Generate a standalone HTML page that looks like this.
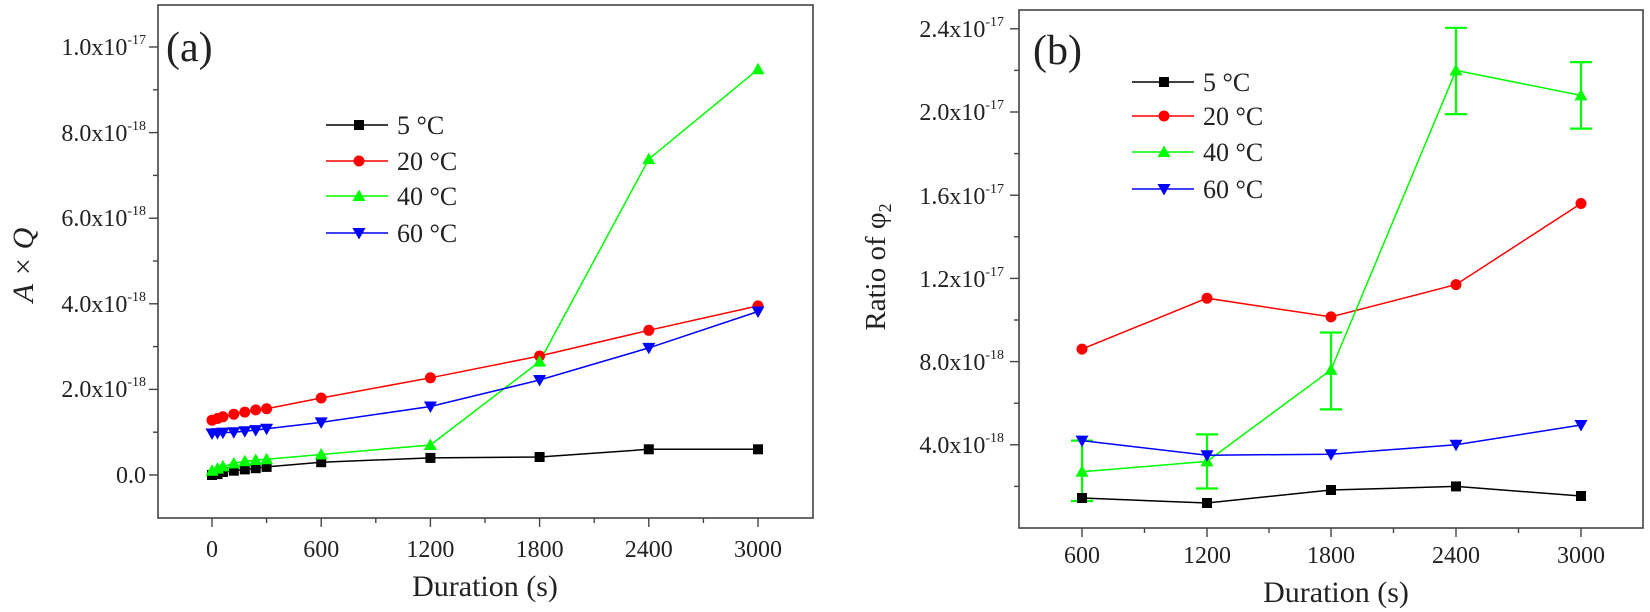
<!DOCTYPE html>
<html><head><meta charset="utf-8"><style>
html,body{margin:0;padding:0;background:#fff;}
svg{display:block;}
svg text{font-family:"Liberation Serif","DejaVu Serif",serif;}
</style></head><body>
<svg width="1650" height="612" viewBox="0 0 1650 612" xmlns="http://www.w3.org/2000/svg" font-family="'Liberation Serif', 'DejaVu Serif', serif">
<defs>
<g id="sq"><rect x="-5" y="-5" width="10" height="10" fill="#000"/></g>
<g id="ci"><circle r="5.5" fill="#f00"/></g>
<g id="tu"><polygon points="0,-6.5 6.5,5 -6.5,5" fill="#0f0"/></g>
<g id="td"><polygon points="0,6.5 6.5,-5 -6.5,-5" fill="#00f"/></g>
</defs>

<!-- ===== Panel a ===== -->
<rect x="158" y="5" width="655" height="513" fill="none" stroke="#444" stroke-width="1.6"/>
<g stroke="#444" stroke-width="1.4">
<line x1="149" y1="475" x2="158" y2="475"/><line x1="149" y1="389.4" x2="158" y2="389.4"/><line x1="149" y1="303.8" x2="158" y2="303.8"/><line x1="149" y1="218.2" x2="158" y2="218.2"/><line x1="149" y1="132.6" x2="158" y2="132.6"/><line x1="149" y1="47" x2="158" y2="47"/>
<line x1="153" y1="432.2" x2="158" y2="432.2"/><line x1="153" y1="346.6" x2="158" y2="346.6"/><line x1="153" y1="261" x2="158" y2="261"/><line x1="153" y1="175.4" x2="158" y2="175.4"/><line x1="153" y1="89.8" x2="158" y2="89.8"/>
<line x1="212" y1="518" x2="212" y2="527"/><line x1="321.2" y1="518" x2="321.2" y2="527"/><line x1="430.4" y1="518" x2="430.4" y2="527"/><line x1="539.6" y1="518" x2="539.6" y2="527"/><line x1="648.8" y1="518" x2="648.8" y2="527"/><line x1="758" y1="518" x2="758" y2="527"/>
<line x1="266.6" y1="518" x2="266.6" y2="523"/><line x1="375.8" y1="518" x2="375.8" y2="523"/><line x1="485" y1="518" x2="485" y2="523"/><line x1="594.2" y1="518" x2="594.2" y2="523"/><line x1="703.4" y1="518" x2="703.4" y2="523"/>
</g>
<g font-size="24" fill="#222" text-anchor="end" font-family="'Liberation Serif', serif">
<text x="146" y="483">0.0</text>
<text x="146" y="397">2.0x10<tspan font-size="14" dy="-11">-18</tspan></text>
<text x="146" y="312">4.0x10<tspan font-size="14" dy="-11">-18</tspan></text>
<text x="146" y="226">6.0x10<tspan font-size="14" dy="-11">-18</tspan></text>
<text x="146" y="141">8.0x10<tspan font-size="14" dy="-11">-18</tspan></text>
<text x="146" y="55">1.0x10<tspan font-size="14" dy="-11">-17</tspan></text>
</g>
<g font-size="24" fill="#222" text-anchor="middle" font-family="'Liberation Serif', serif">
<text x="212" y="557">0</text><text x="321.2" y="557">600</text><text x="430.4" y="557">1200</text><text x="539.6" y="557">1800</text><text x="648.8" y="557">2400</text><text x="758" y="557">3000</text>
</g>
<text x="485" y="596" font-size="30" fill="#222" text-anchor="middle" font-family="'Liberation Serif', serif">Duration (s)</text>
<text transform="translate(33,265) rotate(-90)" font-size="30" fill="#222" text-anchor="middle" font-style="italic" font-family="'Liberation Serif', serif">A × Q</text>
<text x="166" y="61" font-size="42" fill="#222" font-family="'Liberation Serif', serif">(a)</text>

<g fill="none" stroke-width="1.5">
<polyline stroke="#000" points="212,475 217.5,474.1 222.9,472 233.8,470.7 244.8,469.4 255.7,468.2 266.6,466.9 321.2,462.2 430.4,457.9 539.6,457 648.8,449.3 758,449.3"/>
<polyline stroke="#f00" points="212,420.2 217.5,418.5 222.9,416.8 233.8,414.2 244.8,412.1 255.7,409.9 266.6,408.7 321.2,398 430.4,377.8 539.6,356 648.8,330.3 758,305.9"/>
<polyline stroke="#0f0" points="212,470.7 217.5,468.6 222.9,466.4 233.8,463.4 244.8,461.3 255.7,460 266.6,459.2 321.2,454.5 430.4,445 539.6,361.6 648.8,159.1 758,69.3"/>
<polyline stroke="#00f" points="212,433.5 217.5,433.1 222.9,432.6 233.8,432.2 244.8,431.3 255.7,430.1 266.6,428.8 321.2,422.4 430.4,406.5 539.6,380 648.8,347.9 758,311.5"/>
</g>
<g>
<use href="#sq" x="212" y="475"/><use href="#sq" x="217.5" y="474.1"/><use href="#sq" x="222.9" y="472"/><use href="#sq" x="233.8" y="470.7"/><use href="#sq" x="244.8" y="469.4"/><use href="#sq" x="255.7" y="468.2"/><use href="#sq" x="266.6" y="466.9"/><use href="#sq" x="321.2" y="462.2"/><use href="#sq" x="430.4" y="457.9"/><use href="#sq" x="539.6" y="457"/><use href="#sq" x="648.8" y="449.3"/><use href="#sq" x="758" y="449.3"/>
<use href="#ci" x="212" y="420.2"/><use href="#ci" x="217.5" y="418.5"/><use href="#ci" x="222.9" y="416.8"/><use href="#ci" x="233.8" y="414.2"/><use href="#ci" x="244.8" y="412.1"/><use href="#ci" x="255.7" y="409.9"/><use href="#ci" x="266.6" y="408.7"/><use href="#ci" x="321.2" y="398"/><use href="#ci" x="430.4" y="377.8"/><use href="#ci" x="539.6" y="356"/><use href="#ci" x="648.8" y="330.3"/><use href="#ci" x="758" y="305.9"/>
<use href="#tu" x="212" y="470.7"/><use href="#tu" x="217.5" y="468.6"/><use href="#tu" x="222.9" y="466.4"/><use href="#tu" x="233.8" y="463.4"/><use href="#tu" x="244.8" y="461.3"/><use href="#tu" x="255.7" y="460"/><use href="#tu" x="266.6" y="459.2"/><use href="#tu" x="321.2" y="454.5"/><use href="#tu" x="430.4" y="445"/><use href="#tu" x="539.6" y="361.6"/><use href="#tu" x="648.8" y="159.1"/><use href="#tu" x="758" y="69.3"/>
<use href="#td" x="212" y="433.5"/><use href="#td" x="217.5" y="433.1"/><use href="#td" x="222.9" y="432.6"/><use href="#td" x="233.8" y="432.2"/><use href="#td" x="244.8" y="431.3"/><use href="#td" x="255.7" y="430.1"/><use href="#td" x="266.6" y="428.8"/><use href="#td" x="321.2" y="422.4"/><use href="#td" x="430.4" y="406.5"/><use href="#td" x="539.6" y="380"/><use href="#td" x="648.8" y="347.9"/><use href="#td" x="758" y="311.5"/>
</g>
<!-- legend a -->
<g stroke-width="1.5">
<line x1="326" y1="125" x2="388" y2="125" stroke="#000"/><use href="#sq" x="359" y="125"/>
<line x1="326" y1="161" x2="388" y2="161" stroke="#f00"/><use href="#ci" x="359" y="161"/>
<line x1="326" y1="196" x2="388" y2="196" stroke="#0f0"/><use href="#tu" x="359" y="196"/>
<line x1="326" y1="233" x2="388" y2="233" stroke="#00f"/><use href="#td" x="359" y="233"/>
</g>
<g font-size="26" fill="#222" font-family="'Liberation Serif', serif">
<text x="397" y="134">5 °C</text><text x="397" y="170">20 °C</text><text x="397" y="205">40 °C</text><text x="397" y="242">60 °C</text>
</g>

<!-- ===== Panel b ===== -->
<rect x="1019" y="10" width="624" height="518" fill="none" stroke="#444" stroke-width="1.6"/>
<g stroke="#444" stroke-width="1.4">
<line x1="1010" y1="444.8" x2="1019" y2="444.8"/><line x1="1010" y1="361.6" x2="1019" y2="361.6"/><line x1="1010" y1="278.4" x2="1019" y2="278.4"/><line x1="1010" y1="195.2" x2="1019" y2="195.2"/><line x1="1010" y1="112" x2="1019" y2="112"/><line x1="1010" y1="28.8" x2="1019" y2="28.8"/>
<line x1="1014" y1="486.4" x2="1019" y2="486.4"/><line x1="1014" y1="403.2" x2="1019" y2="403.2"/><line x1="1014" y1="320" x2="1019" y2="320"/><line x1="1014" y1="236.8" x2="1019" y2="236.8"/><line x1="1014" y1="153.6" x2="1019" y2="153.6"/><line x1="1014" y1="70.4" x2="1019" y2="70.4"/>
<line x1="1082" y1="528" x2="1082" y2="537"/><line x1="1207" y1="528" x2="1207" y2="537"/><line x1="1331" y1="528" x2="1331" y2="537"/><line x1="1456" y1="528" x2="1456" y2="537"/><line x1="1581" y1="528" x2="1581" y2="537"/>
<line x1="1144.5" y1="528" x2="1144.5" y2="533"/><line x1="1269" y1="528" x2="1269" y2="533"/><line x1="1393.5" y1="528" x2="1393.5" y2="533"/><line x1="1518.5" y1="528" x2="1518.5" y2="533"/>
</g>
<g font-size="24" fill="#222" text-anchor="end" font-family="'Liberation Serif', serif">
<text x="1004" y="453">4.0x10<tspan font-size="14" dy="-11">-18</tspan></text>
<text x="1004" y="370">8.0x10<tspan font-size="14" dy="-11">-18</tspan></text>
<text x="1004" y="287">1.2x10<tspan font-size="14" dy="-11">-17</tspan></text>
<text x="1004" y="204">1.6x10<tspan font-size="14" dy="-11">-17</tspan></text>
<text x="1004" y="120">2.0x10<tspan font-size="14" dy="-11">-17</tspan></text>
<text x="1004" y="37">2.4x10<tspan font-size="14" dy="-11">-17</tspan></text>
</g>
<g font-size="24" fill="#222" text-anchor="middle" font-family="'Liberation Serif', serif">
<text x="1082" y="563">600</text><text x="1207" y="563">1200</text><text x="1331" y="563">1800</text><text x="1456" y="563">2400</text><text x="1581" y="563">3000</text>
</g>
<text x="1336" y="602" font-size="30" fill="#222" text-anchor="middle" font-family="'Liberation Serif', serif">Duration (s)</text>
<text transform="translate(885,267) rotate(-90)" font-size="29" fill="#222" text-anchor="middle" font-family="'Liberation Serif', serif">Ratio of φ<tspan font-size="18" dy="6">2</tspan></text>
<text x="1033" y="64" font-size="42" fill="#222" font-family="'Liberation Serif', serif">(b)</text>

<!-- error bars -->
<g stroke="#0f0" stroke-width="2.2">
<line x1="1082" y1="440.6" x2="1082" y2="501"/><line x1="1071" y1="440.6" x2="1093" y2="440.6"/><line x1="1071" y1="501" x2="1093" y2="501"/>
<line x1="1207" y1="434.4" x2="1207" y2="488.5"/><line x1="1196" y1="434.4" x2="1218" y2="434.4"/><line x1="1196" y1="488.5" x2="1218" y2="488.5"/>
<line x1="1331" y1="332.5" x2="1331" y2="409.4"/><line x1="1320" y1="332.5" x2="1342" y2="332.5"/><line x1="1320" y1="409.4" x2="1342" y2="409.4"/>
<line x1="1456" y1="27.8" x2="1456" y2="114.1"/><line x1="1445" y1="27.8" x2="1467" y2="27.8"/><line x1="1445" y1="114.1" x2="1467" y2="114.1"/>
<line x1="1581" y1="62.1" x2="1581" y2="128.6"/><line x1="1570" y1="62.1" x2="1592" y2="62.1"/><line x1="1570" y1="128.6" x2="1592" y2="128.6"/>
</g>
<g fill="none" stroke-width="1.5">
<polyline stroke="#000" points="1082,498 1207,503 1331,490 1456,486.4 1581,496"/>
<polyline stroke="#f00" points="1082,349.1 1207,298.2 1331,316.9 1456,284.6 1581,203.5"/>
<polyline stroke="#0f0" points="1082,471.8 1207,461.4 1331,369.9 1456,70.4 1581,95.4"/>
<polyline stroke="#00f" points="1082,440.6 1207,455.2 1331,454.2 1456,444.8 1581,425"/>
</g>
<g>
<use href="#sq" x="1082" y="498"/><use href="#sq" x="1207" y="503"/><use href="#sq" x="1331" y="490"/><use href="#sq" x="1456" y="486.4"/><use href="#sq" x="1581" y="496"/>
<use href="#ci" x="1082" y="349.1"/><use href="#ci" x="1207" y="298.2"/><use href="#ci" x="1331" y="316.9"/><use href="#ci" x="1456" y="284.6"/><use href="#ci" x="1581" y="203.5"/>
<use href="#tu" x="1082" y="471.8"/><use href="#tu" x="1207" y="461.4"/><use href="#tu" x="1331" y="369.9"/><use href="#tu" x="1456" y="70.4"/><use href="#tu" x="1581" y="95.4"/>
<use href="#td" x="1082" y="440.6"/><use href="#td" x="1207" y="455.2"/><use href="#td" x="1331" y="454.2"/><use href="#td" x="1456" y="444.8"/><use href="#td" x="1581" y="425"/>
</g>
<!-- legend b -->
<g stroke-width="1.5">
<line x1="1132" y1="82" x2="1194" y2="82" stroke="#000"/><use href="#sq" x="1164" y="82"/>
<line x1="1132" y1="116" x2="1194" y2="116" stroke="#f00"/><use href="#ci" x="1164" y="116"/>
<line x1="1132" y1="152" x2="1194" y2="152" stroke="#0f0"/><use href="#tu" x="1164" y="152"/>
<line x1="1132" y1="189" x2="1194" y2="189" stroke="#00f"/><use href="#td" x="1164" y="189"/>
</g>
<g font-size="26" fill="#222" font-family="'Liberation Serif', serif">
<text x="1203" y="91">5 °C</text><text x="1203" y="125">20 °C</text><text x="1203" y="161">40 °C</text><text x="1203" y="198">60 °C</text>
</g>
</svg>
</body></html>
